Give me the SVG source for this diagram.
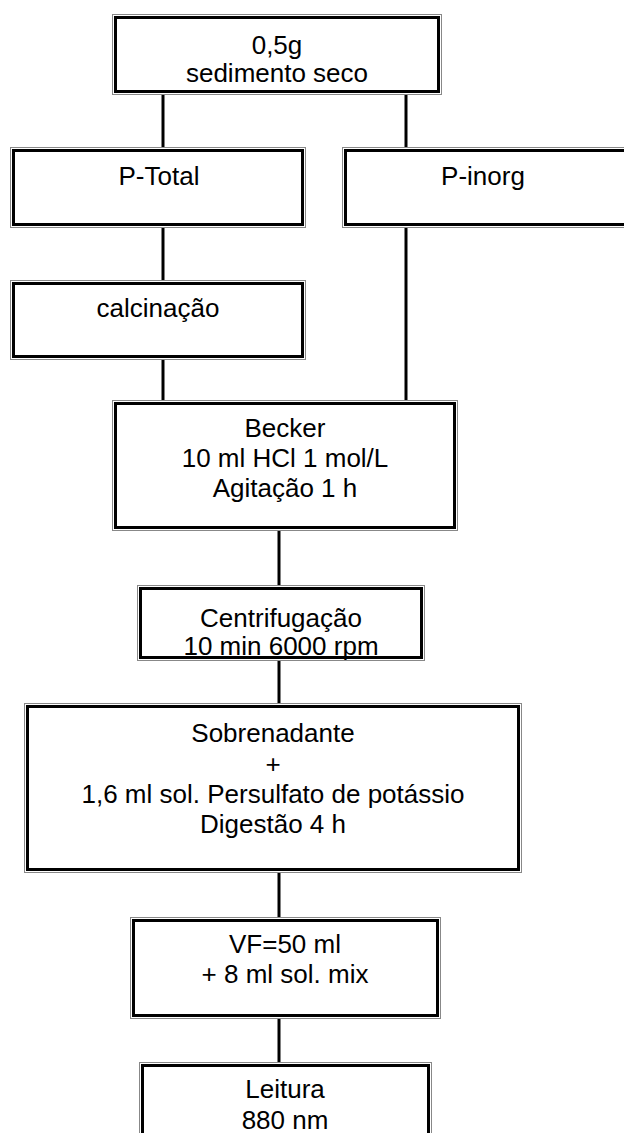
<svg xmlns="http://www.w3.org/2000/svg" width="624" height="1133" viewBox="0 0 624 1133">
<style>
.o{fill:none;stroke:#888;stroke-width:1}
.i{fill:#fff;stroke:#000;stroke-width:3}
.t{font-family:"Liberation Sans",Arial,sans-serif;font-size:26px;fill:#000;text-anchor:middle}
.c line{stroke:#000;stroke-width:3}
</style>
<rect width="624" height="1133" fill="#fff"/>
<g class="c" id="connectors">
<line x1="163" y1="94" x2="163" y2="147"/>
<line x1="406" y1="94" x2="406" y2="147"/>
<line x1="163" y1="227" x2="163" y2="280"/>
<line x1="406" y1="227" x2="406" y2="400"/>
<line x1="163" y1="359" x2="163" y2="400"/>
<line x1="279" y1="530" x2="279" y2="585"/>
<line x1="279" y1="660" x2="279" y2="703"/>
<line x1="279" y1="872" x2="279" y2="917"/>
<line x1="279" y1="1018" x2="279" y2="1062"/>
</g>
<g id="n1"><rect class="o" x="112.5" y="14.5" width="329" height="80"/><rect class="i" x="115.5" y="17.5" width="323" height="74"/>
<text class="t" x="277" y="54">0,5g</text><text class="t" x="277" y="82">sedimento seco</text></g>
<g id="n2"><rect class="o" x="10.5" y="147.5" width="295" height="80"/><rect class="i" x="13.5" y="150.5" width="289" height="74"/>
<text class="t" x="159" y="185">P-Total</text></g>
<g id="n3"><rect class="o" x="342.5" y="147.5" width="300" height="80"/><rect class="i" x="345.5" y="150.5" width="294" height="74"/>
<text class="t" x="483" y="185">P-inorg</text></g>
<g id="n4"><rect class="o" x="10.5" y="280.5" width="295" height="79"/><rect class="i" x="13.5" y="283.5" width="289" height="73"/>
<text class="t" x="158" y="317">calcinação</text></g>
<g id="n5"><rect class="o" x="112.5" y="400.5" width="345" height="130"/><rect class="i" x="115.5" y="403.5" width="339" height="124"/>
<text class="t" x="285" y="437">Becker</text><text class="t" x="285" y="467">10 ml HCl 1 mol/L</text><text class="t" x="285" y="497">Agitação 1 h</text></g>
<g id="n6"><rect class="o" x="137.5" y="585.5" width="287" height="75"/><rect class="i" x="140.5" y="588.5" width="281" height="69"/>
<text class="t" x="281" y="627">Centrifugação</text><text class="t" x="281" y="655">10 min 6000 rpm</text></g>
<g id="n7"><rect class="o" x="24.5" y="703.5" width="497" height="169"/><rect class="i" x="27.5" y="706.5" width="491" height="163"/>
<text class="t" x="273" y="742">Sobrenadante</text><text class="t" x="273" y="773">+</text><text class="t" x="273" y="803">1,6 ml sol. Persulfato de potássio</text><text class="t" x="273" y="833">Digestão 4 h</text></g>
<g id="n8"><rect class="o" x="130.5" y="917.5" width="310" height="101"/><rect class="i" x="133.5" y="920.5" width="304" height="95"/>
<text class="t" x="285" y="953">VF=50 ml</text><text class="t" x="285" y="983">+ 8 ml sol. mix</text></g>
<g id="n9"><rect class="o" x="139.5" y="1062.5" width="292" height="90"/><rect class="i" x="142.5" y="1065.5" width="286" height="84"/>
<text class="t" x="285" y="1098">Leitura</text><text class="t" x="285" y="1129">880 nm</text></g>
</svg>
